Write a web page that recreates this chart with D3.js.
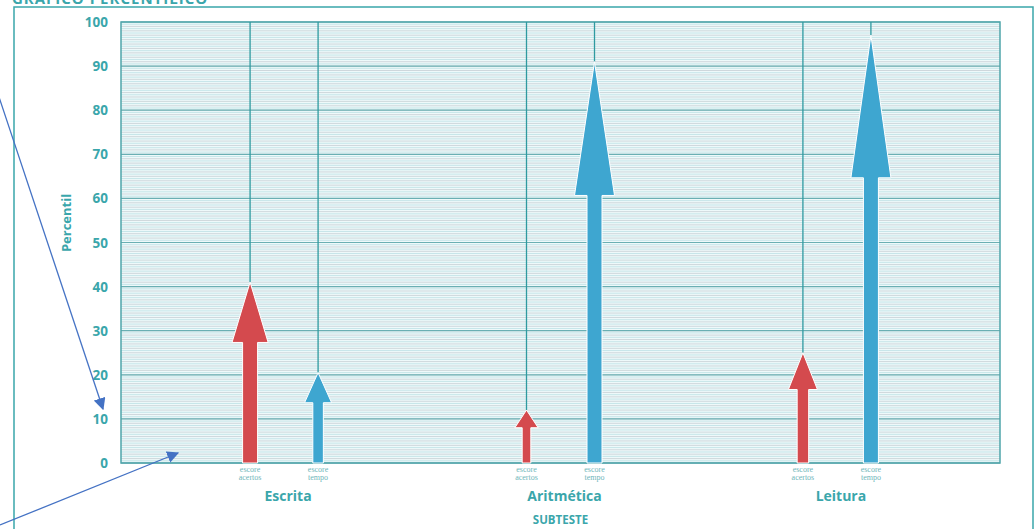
<!DOCTYPE html>
<html>
<head>
<meta charset="utf-8">
<script src="https://cdn.jsdelivr.net/npm/d3@7.9.0/dist/d3.min.js"></script>
<style>
  body { margin: 0; background: #fff; }
  svg { display: block; font-family: "Open Sans", sans-serif; }
</style>
</head>
<body>
<svg id="chart" width="1034" height="529"></svg>
<script>
// data
const subtests = ["Escrita", "Aritmética", "Leitura"];
const acertos = [41, 12, 25];     // escore acertos (red)
const tempo = [20.5, 91, 97];     // escore tempo (blue)
const yTicks = [0, 10, 20, 30, 40, 50, 60, 70, 80, 90, 100];

const teal = "#3aa6ab";
const red = "#d44a4e";
const blue = "#3ea6d0";

const svg = d3.select("#chart");
const pLeft = 121, pRight = 1000, pTop = 22, pBottom = 463;

let y = d3.scaleLinear().domain([0, 100]).range([pBottom, pTop]);
let x = d3.scalePoint().domain(subtests).range([pLeft, pRight]).padding(0.59);
let offset = 34;

// outer frame + title (cut off at top, as in the scan)
svg.append("path")
  .attr("d", `M14,529 L14,7 L1033,7 L1033,529`)
  .attr("fill", "none").attr("stroke", teal).attr("stroke-width", 1.5);
svg.append("text").attr("x", 12).attr("y", 4)
  .attr("fill", teal).attr("font-weight", "bold").attr("font-size", 15)
  .attr("letter-spacing", 1).text("GRÁFICO PERCENTÍLICO");

// plot background
svg.append("rect").attr("x", pLeft).attr("y", pTop)
  .attr("width", pRight - pLeft).attr("height", pBottom - pTop)
  .attr("fill", "#eef9fa");

// fine ruling
let minor = d3.range(0, 100, 0.5);
svg.append("g").selectAll("line").data(minor).enter().append("line")
  .attr("x1", pLeft).attr("x2", pRight)
  .attr("y1", d => y(d)).attr("y2", d => y(d))
  .attr("stroke", (d, i) => i % 2 ? "#b4dde1" : "#c2c9cf")
  .attr("stroke-width", 0.7);

svg.append("g").selectAll("line").data(yTicks).enter().append("line")
  .attr("x1", pLeft).attr("x2", pRight)
  .attr("y1", d => y(d)).attr("y2", d => y(d))
  .attr("stroke", "#6aafb3").attr("stroke-width", 1.2);

svg.append("rect").attr("x", pLeft).attr("y", pTop)
  .attr("width", pRight - pLeft).attr("height", pBottom - pTop)
  .attr("fill", "none").attr("stroke", "#4fa5aa").attr("stroke-width", 1.5);

// y axis labels
svg.append("g").selectAll("text").data(yTicks).enter().append("text")
  .attr("x", 108).attr("y", d => y(d) + 5)
  .attr("text-anchor", "end").attr("fill", teal)
  .attr("font-weight", "bold").attr("font-size", 13.5)
  .text(d => d);

svg.append("text")
  .attr("transform", "translate(71,223) rotate(-90)")
  .attr("text-anchor", "middle").attr("fill", teal)
  .attr("font-size", 13).attr("font-weight", "bold")
  .attr("font-family", "'Liberation Sans Narrow', 'Open Sans', sans-serif")
  .text("Percentil");

// build arrow list
let arrows = [];
subtests.forEach((s, i) => {
  arrows.push({ x: x(s) - offset, value: acertos[i], color: red, l1: "escore", l2: "acertos" });
  arrows.push({ x: x(s) + offset, value: tempo[i], color: blue, l1: "escore", l2: "tempo" });
});

// vertical guide lines
svg.append("g").selectAll("line").data(arrows).enter().append("line")
  .attr("x1", d => d.x).attr("x2", d => d.x)
  .attr("y1", pTop).attr("y2", d => y(d.value))
  .attr("stroke", "#2f9aa0").attr("stroke-width", 1.3);

function arrowPath(d) {
  let tip = y(d.value), base = y(0);
  let len = base - tip;
  let headLen = len / 3;
  let headW = Math.min(40, 18 + len * 0.1) / 2;
  let shaftW = Math.min(15, 6 + len * 0.05) / 2;
  let hb = tip + headLen;
  return `M${d.x - shaftW},${base} L${d.x - shaftW},${hb} L${d.x - headW},${hb}
          L${d.x},${tip} L${d.x + headW},${hb} L${d.x + shaftW},${hb} L${d.x + shaftW},${base} Z`;
}

svg.append("g").selectAll("path").data(arrows).enter().append("path")
  .attr("d", arrowPath)
  .attr("fill", d => d.color)
  .attr("stroke", "#ffffff").attr("stroke-width", 1);

// small labels under the arrows
let lab = svg.append("g").selectAll("g").data(arrows).enter().append("g");
lab.append("text").attr("x", d => d.x).attr("y", 472)
  .attr("text-anchor", "middle").attr("fill", "#6fb6ba").attr("font-size", 8)
  .attr("font-family", "'Liberation Serif', serif")
  .text(d => d.l1);
lab.append("text").attr("x", d => d.x).attr("y", 480)
  .attr("text-anchor", "middle").attr("fill", "#6fb6ba").attr("font-size", 8)
  .attr("font-family", "'Liberation Serif', serif")
  .text(d => d.l2);

svg.append("g").selectAll("text").data(subtests).enter().append("text")
  .attr("x", d => x(d) + 4).attr("y", 501)
  .attr("text-anchor", "middle").attr("fill", teal)
  .attr("font-weight", "bold").attr("font-size", 14)
  .text(d => d);

svg.append("text").attr("x", x("Aritmética")).attr("y", 524)
  .attr("text-anchor", "middle").attr("fill", teal)
  .attr("font-weight", "bold").attr("font-size", 11.5)
  .text("SUBTESTE");

// hand-drawn annotation arrows
svg.append("defs").append("marker")
  .attr("id", "ah").attr("viewBox", "0 0 10 10")
  .attr("refX", 9).attr("refY", 5)
  .attr("markerWidth", 12).attr("markerHeight", 12)
  .attr("markerUnits", "userSpaceOnUse")
  .attr("orient", "auto")
  .append("path").attr("d", "M0,0 L10,5 L0,10 Z").attr("fill", "#4472c4");

let notes = [
  { x1: -30, y1: 10, x2: 103, y2: 409 },
  { x1: 0, y1: 525, x2: 178, y2: 453 }
];
svg.append("g").selectAll("line").data(notes).enter().append("line")
  .attr("x1", d => d.x1).attr("y1", d => d.y1)
  .attr("x2", d => d.x2).attr("y2", d => d.y2)
  .attr("stroke", "#4472c4").attr("stroke-width", 1.3)
  .attr("marker-end", "url(#ah)");
</script>
</body>
</html>
